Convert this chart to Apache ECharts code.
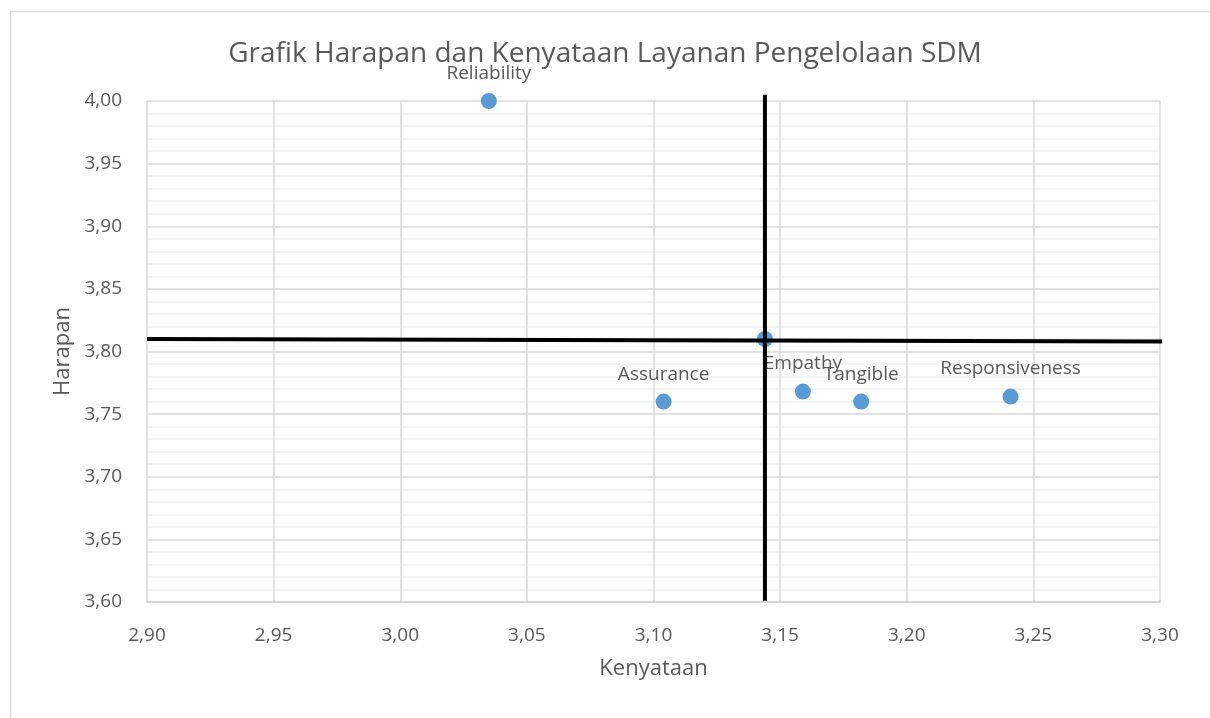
<!DOCTYPE html>
<html>
<head>
<meta charset="utf-8">
<script src="https://cdn.jsdelivr.net/npm/echarts@6/dist/echarts.min.js"></script>
<style>
html,body{margin:0;padding:0;background:#fff;}
#chart{width:1210px;height:718px;}
</style>
</head>
<body>
<div id="chart"></div>
<script>
// Data
var pointNames = ['Reliability', 'Assurance', 'Empathy', 'Tangible', 'Responsiveness'];
var kenyataan = [3.035, 3.104, 3.159, 3.182, 3.241];
var harapan = [4.000, 3.760, 3.768, 3.760, 3.764];
var meanPoint = [3.144, 3.810];
// Quadrant reference lines (data units)
var hLineX = [2.900, 3.304];
var hLineY = [3.810, 3.808];
var vLineX = [3.144, 3.144];
var vLineY = [4.005, 3.601];

var titleText = 'Grafik Harapan dan Kenyataan Layanan Pengelolaan SDM';
var xName = 'Kenyataan';
var yName = 'Harapan';

var FONT = '"Open Sans", "Noto Sans", sans-serif';
var TXT = '#595959';

function fmt(v){ return v.toFixed(2).replace('.', ','); }

var scatterData = pointNames.map(function(n, i){ return {name: n, value: [kenyataan[i], harapan[i]]}; });

var chart = echarts.init(document.getElementById('chart'), null, {renderer: 'canvas'});
chart.setOption({
  animation: false,
  backgroundColor: '#ffffff',
  graphic: [{
    type: 'rect', left: 8, top: 9, z: -10,
    shape: {width: 1400, height: 900},
    style: {fill: 'none', stroke: '#d9d9d9', lineWidth: 1.5}
  }],
  title: {
    text: titleText, left: 'center', top: 35,
    textStyle: {fontFamily: FONT, fontSize: 28, fontWeight: 'normal', color: TXT}
  },
  grid: {left: 147, right: 50, top: 101, bottom: 116, containLabel: false},
  xAxis: {
    type: 'value', min: 2.9, max: 3.3, interval: 0.05,
    name: xName, nameLocation: 'middle', nameGap: 56,
    nameTextStyle: {fontFamily: FONT, fontSize: 22, color: TXT},
    axisLine: {show: true, lineStyle: {color: '#d0d0d0', width: 1.5}},
    axisTick: {show: false},
    axisLabel: {formatter: fmt, fontFamily: FONT, fontSize: 19, color: TXT, margin: 24},
    splitLine: {show: true, lineStyle: {color: '#d9d9d9', width: 1.5}}
  },
  yAxis: {
    type: 'value', min: 3.6, max: 4.0, interval: 0.05,
    name: yName, nameLocation: 'middle', nameGap: 72, nameRotate: 90,
    nameTextStyle: {fontFamily: FONT, fontSize: 22, color: TXT},
    axisLine: {show: false},
    axisTick: {show: false},
    axisLabel: {formatter: fmt, fontFamily: FONT, fontSize: 19, color: TXT, margin: 25},
    splitLine: {show: true, lineStyle: {color: '#d9d9d9', width: 1.5}},
    minorTick: {show: false, splitNumber: 5},
    minorSplitLine: {show: true, lineStyle: {color: '#efefef', width: 1.5}}
  },
  series: [
    {
      type: 'scatter', z: 2,
      symbolSize: 16,
      itemStyle: {color: '#5b9bd5', opacity: 1},
      data: scatterData,
      label: {
        show: true, position: 'top', distance: 10,
        formatter: function(p){ return p.name; },
        fontFamily: FONT, fontSize: 19, color: TXT, opacity: 1
      }
    },
    {
      type: 'scatter', z: 2,
      symbolSize: 16,
      itemStyle: {color: '#5b9bd5', opacity: 1},
      data: [meanPoint]
    },
    {
      type: 'line', z: 5, clip: false, symbol: 'none',
      lineStyle: {color: '#000', width: 4},
      data: hLineX.map(function(x, i){ return [x, hLineY[i]]; })
    },
    {
      type: 'line', z: 5, clip: false, symbol: 'none',
      lineStyle: {color: '#000', width: 4},
      data: vLineX.map(function(x, i){ return [x, vLineY[i]]; })
    }
  ]
});
</script>
</body>
</html>
